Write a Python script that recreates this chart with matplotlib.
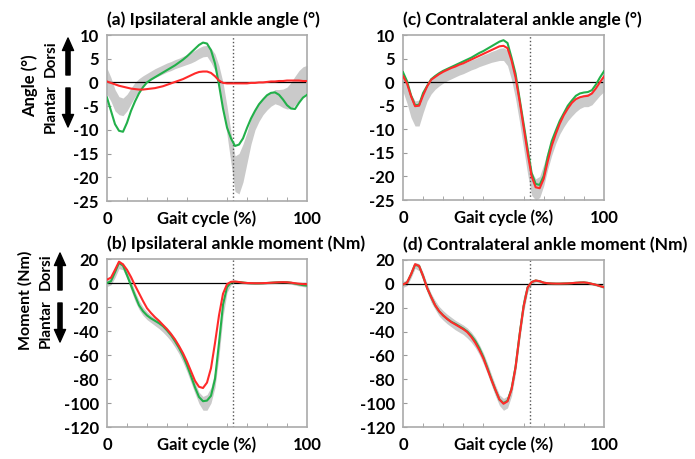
import numpy as np
import matplotlib
matplotlib.use("Agg")
import matplotlib.pyplot as plt

plt.rcParams['font.family'] = ['Lato', 'DejaVu Sans']
plt.rcParams['font.weight'] = 'bold'

# gait cycle samples (%)
gait = np.arange(0, 101, 2)

# ---------------------------------------------------------------------------
# (a) ipsilateral ankle angle (deg)
# ---------------------------------------------------------------------------
ang_ipsi_green = [-3.2, -6.0, -8.8, -10.2, -10.4, -8.5, -6.0, -4.0, -2.3, -1.0,
                  0.0, 0.6, 1.1, 1.6, 2.1, 2.6, 3.1, 3.6, 4.2, 4.8,
                  5.5, 6.3, 7.1, 7.9, 8.4, 8.2, 6.8, 4.0, -0.5, -5.5,
                  -9.5, -11.8, -13.4, -13.1, -11.8, -9.6, -7.6, -6.0, -4.6, -3.6,
                  -2.7, -2.2, -2.1, -2.6, -3.6, -4.8, -5.5, -5.6, -4.3, -3.2,
                  -2.6]
ang_ipsi_red = [0.2, -0.1, -0.4, -0.7, -0.9, -1.1, -1.3, -1.4, -1.5, -1.5,
                -1.4, -1.3, -1.2, -1.0, -0.8, -0.5, -0.2, 0.1, 0.4, 0.7,
                1.1, 1.5, 1.9, 2.2, 2.3, 2.3, 2.0, 1.3, 0.4, -0.1,
                -0.2, -0.2, -0.2, -0.2, -0.2, -0.2, -0.1, -0.1, 0.0, 0.0,
                0.1, 0.2, 0.2, 0.3, 0.3, 0.4, 0.4, 0.4, 0.4, 0.3,
                0.3]
ang_ipsi_hi = [3.0, 1.0, -1.5, -3.0, -3.3, -2.5, -1.2, 0.0, 0.8, 1.4,
               1.9, 2.4, 2.9, 3.3, 3.7, 4.1, 4.4, 4.8, 5.1, 5.5,
               5.9, 6.3, 6.8, 7.3, 7.7, 7.8, 7.2, 6.0, 3.5, 0.0,
               -5.0, -10.5, -15.5, -15.0, -13.0, -10.5, -7.5, -5.5, -4.2, -3.2,
               -2.5, -2.1, -1.5, -1.5, -1.4, -1.0, 0.0, 1.3, 2.5, 3.3,
               3.6]
ang_ipsi_lo = [-2.5, -4.0, -6.0, -6.8, -7.0, -6.0, -4.5, -3.0, -1.8, -0.8,
               0.0, 0.5, 1.0, 1.4, 1.8, 2.2, 2.5, 2.9, 3.2, 3.5,
               3.8, 4.1, 4.5, 5.0, 5.4, 5.5, 4.2, 2.5, -1.0, -5.5,
               -11.0, -17.0, -23.0, -23.5, -21.0, -17.0, -13.0, -10.0, -8.2, -6.8,
               -5.8, -5.0, -4.5, -4.8, -5.3, -5.6, -5.5, -4.8, -3.8, -2.8,
               -2.0]

# ---------------------------------------------------------------------------
# (c) contralateral ankle angle (deg)
# ---------------------------------------------------------------------------
ang_contra_green = [2.1, 0.2, -2.8, -4.9, -4.8, -2.3, -0.8, 0.6, 1.3, 1.9,
                    2.4, 2.8, 3.2, 3.6, 4.0, 4.4, 4.8, 5.2, 5.7, 6.2,
                    6.6, 7.1, 7.6, 8.1, 8.6, 8.9, 8.3, 5.2, 1.8, -3.5,
                    -8.8, -14.1, -19.3, -21.6, -21.8, -19.9, -15.8, -12.5, -10.3, -8.2,
                    -6.6, -5.0, -3.9, -2.9, -2.4, -2.2, -2.1, -1.7, -0.5, 1.0,
                    2.3]
ang_contra_red = [1.3, -0.3, -3.0, -5.1, -5.0, -2.8, -0.9, 0.5, 1.1, 1.7,
                  2.2, 2.6, 3.0, 3.3, 3.7, 4.0, 4.4, 4.8, 5.2, 5.6,
                  6.0, 6.4, 6.8, 7.2, 7.6, 7.7, 7.2, 4.6, 1.0, -4.0,
                  -9.5, -15.0, -20.0, -22.3, -22.5, -20.5, -16.8, -13.5, -11.0, -8.8,
                  -7.0, -5.6, -4.4, -3.6, -3.2, -3.0, -2.9, -2.4, -1.3, 0.0,
                  1.2]
ang_contra_hi = [1.5, -0.5, -2.5, -4.0, -3.8, -2.0, -0.5, 0.5, 1.2, 1.8,
                 2.3, 2.7, 3.0, 3.4, 3.7, 4.0, 4.3, 4.7, 5.0, 5.4,
                 5.8, 6.1, 6.5, 6.8, 7.2, 7.3, 6.8, 4.5, 1.0, -3.5,
                 -9.0, -14.5, -19.0, -20.5, -20.0, -17.5, -14.5, -12.0, -10.0, -8.2,
                 -6.8, -5.5, -4.4, -3.6, -3.0, -2.6, -2.4, -2.0, -1.0, 0.2,
                 1.0]
ang_contra_lo = [-2.0, -4.5, -7.5, -9.3, -9.3, -6.5, -4.0, -2.5, -1.5, -0.8,
                 -0.2, 0.3, 0.7, 1.1, 1.5, 1.8, 2.2, 2.6, 2.9, 3.3,
                 3.6, 3.9, 4.2, 4.4, 4.6, 4.6, 3.5, 0.5, -3.5, -8.5,
                 -14.0, -19.5, -24.0, -25.0, -24.5, -22.0, -18.5, -15.5, -13.0, -11.0,
                 -9.5, -8.2, -7.2, -6.3, -5.6, -5.2, -5.2, -4.8, -3.8, -2.8,
                 -2.0]

# ---------------------------------------------------------------------------
# (b) ipsilateral ankle moment (Nm)
# ---------------------------------------------------------------------------
mom_ipsi_green = [0.0, 1.5, 9.0, 16.8, 14.5, 6.5, -2.0, -10.5, -18.5, -23.5,
                  -27.0, -29.5, -31.5, -33.5, -36.0, -39.5, -43.5, -48.5, -54.0, -60.5,
                  -68.5, -77.5, -87.0, -95.0, -98.5, -98.0, -94.0, -80.0, -50.0, -18.0,
                  -3.5, 0.5, 1.0, 0.8, 0.4, 0.0, -0.2, -0.3, -0.3, -0.2,
                  0.0, 0.2, 0.4, 0.6, 0.7, 0.6, 0.2, -0.5, -1.2, -1.8,
                  -2.2]
mom_ipsi_red = [2.8, 4.5, 11.0, 17.8, 15.5, 11.0, 5.0, -2.0, -8.5, -15.0,
                -21.0, -25.0, -28.5, -31.5, -35.0, -38.5, -42.5, -47.0, -52.5, -58.5,
                -65.5, -73.5, -81.5, -86.5, -87.5, -83.0, -71.0, -50.0, -27.0, -9.0,
                -1.0, 1.0, 1.2, 0.8, 0.3, 0.0, -0.1, -0.2, -0.2, -0.1,
                0.0, 0.2, 0.4, 0.6, 0.7, 0.6, 0.3, -0.2, -0.6, -0.9,
                -1.0]
mom_ipsi_hi = [2.5, 4.0, 11.0, 17.5, 17.0, 11.0, 2.0, -7.0, -14.5, -20.0,
               -24.0, -27.0, -29.5, -31.5, -34.0, -37.0, -41.0, -46.0, -51.5, -58.0,
               -65.5, -74.0, -83.0, -91.0, -94.5, -93.0, -87.0, -73.0, -45.0, -15.0,
               -1.0, 1.5, 2.0, 1.8, 1.3, 1.0, 0.8, 0.8, 0.9, 1.0,
               1.2, 1.4, 1.6, 1.7, 1.8, 1.6, 1.0, 0.3, -0.3, -0.7,
               -1.0]
mom_ipsi_lo = [-3.0, -1.5, 4.5, 12.0, 11.0, 3.5, -6.0, -15.0, -22.0, -27.0,
               -30.5, -33.0, -35.5, -38.0, -41.0, -44.5, -48.5, -53.5, -59.0, -66.0,
               -74.0, -83.0, -92.0, -100.5, -106.0, -106.0, -100.0, -87.0, -61.0, -28.0,
               -8.0, -1.5, 0.0, -0.2, -0.6, -1.0, -1.2, -1.2, -1.1, -1.0,
               -0.8, -0.6, -0.4, -0.3, -0.2, -0.4, -1.0, -1.8, -2.5, -3.0,
               -3.5]

# ---------------------------------------------------------------------------
# (d) contralateral ankle moment (Nm)
# ---------------------------------------------------------------------------
mom_contra_green = [-0.5, 1.0, 8.0, 16.0, 15.0, 6.5, -3.5, -11.0, -18.0, -23.0,
                    -26.5, -29.3, -31.8, -33.5, -35.5, -37.5, -40.0, -43.5, -48.0, -54.0,
                    -61.5, -70.5, -80.0, -89.0, -97.0, -100.0, -98.0, -88.0, -69.5, -42.5,
                    -18.5, -3.0, 1.5, 2.8, 2.2, 1.0, 0.5, 0.3, 0.2, 0.2,
                    0.3, 0.4, 0.6, 0.9, 1.1, 1.2, 0.8, 0.0, -0.8, -1.8,
                    -2.8]
mom_contra_red = [-0.5, 1.0, 8.0, 16.5, 15.0, 6.5, -3.5, -11.0, -18.0, -23.0,
                  -26.5, -29.5, -32.0, -34.0, -36.0, -38.0, -40.5, -44.5, -49.5, -55.5,
                  -62.5, -71.5, -80.5, -89.0, -97.0, -100.5, -98.5, -88.5, -70.0, -43.0,
                  -19.0, -3.0, 1.5, 2.8, 2.2, 1.0, 0.5, 0.3, 0.2, 0.2,
                  0.3, 0.4, 0.6, 0.9, 1.1, 1.2, 0.8, 0.0, -0.8, -1.8,
                  -2.8]
mom_contra_hi = [2.0, 3.5, 10.5, 18.0, 17.0, 9.5, 0.0, -8.0, -14.0, -19.0,
                 -22.5, -25.5, -28.0, -30.5, -32.5, -34.5, -37.0, -40.5, -45.0, -51.0,
                 -58.0, -66.5, -76.0, -85.0, -93.0, -96.0, -94.0, -83.0, -62.0, -34.0,
                 -10.0, 0.0, 3.0, 3.8, 3.2, 2.0, 1.5, 1.3, 1.2, 1.2,
                 1.3, 1.4, 1.6, 1.9, 2.1, 2.2, 1.8, 1.0, 0.2, -0.7,
                 -1.5]
mom_contra_lo = [-3.0, -1.5, 5.0, 13.0, 11.0, 2.5, -7.0, -15.5, -21.5, -27.0,
                 -30.5, -33.5, -36.0, -38.5, -40.5, -42.5, -45.5, -49.0, -53.5, -59.5,
                 -67.0, -75.5, -85.0, -94.0, -102.0, -106.0, -104.0, -94.0, -75.0, -48.0,
                 -24.0, -7.0, -0.5, 1.5, 1.0, 0.0, -0.5, -0.7, -0.8, -0.8,
                 -0.7, -0.6, -0.4, -0.1, 0.1, 0.2, -0.2, -1.0, -1.8, -2.8,
                 -4.0]

toe_off = 63  # vertical marker (% gait)

panels = [
    # (title, fig-pixel box [left, top, right, bottom], green, red, hi, lo, ylim, yticks)
    ("(a) Ipsilateral ankle angle (\u00b0)", (107, 35, 307, 201),
     ang_ipsi_green, ang_ipsi_red, ang_ipsi_hi, ang_ipsi_lo, (-25, 10), np.arange(-25, 11, 5)),
    ("(c) Contralateral ankle angle (\u00b0)", (403, 35, 604, 200),
     ang_contra_green, ang_contra_red, ang_contra_hi, ang_contra_lo, (-25, 10), np.arange(-25, 11, 5)),
    ("(b) Ipsilateral ankle moment (Nm)", (107, 259, 307, 427),
     mom_ipsi_green, mom_ipsi_red, mom_ipsi_hi, mom_ipsi_lo, (-120, 20), np.arange(-120, 21, 20)),
    ("(d) Contralateral ankle moment (Nm)", (403, 260, 604, 427),
     mom_contra_green, mom_contra_red, mom_contra_hi, mom_contra_lo, (-120, 20), np.arange(-120, 21, 20)),
]

W, H = 695, 459
fig = plt.figure(figsize=(W / 100, H / 100), dpi=100)

for title, (l, t, r, b), g, rd, hi, lo, ylim, yticks in panels:
    ax = fig.add_axes([l / W, 1 - b / H, (r - l) / W, (b - t) / H])
    ax.fill_between(gait, lo, hi, color='#cacaca', lw=0, zorder=1)
    ax.axhline(0, color='black', lw=0.9, zorder=2)
    ax.axvline(toe_off, color='#555555', lw=1.0, ls=':', zorder=2)
    ax.plot(gait, g, color='#22b04a', lw=1.5, zorder=3)
    ax.plot(gait, rd, color='#ff2a2a', lw=1.5, zorder=4)
    ax.set_xlim(0, 100)
    ax.set_ylim(*ylim)
    ax.set_yticks(yticks)
    ax.set_yticklabels([str(v) for v in yticks])
    ax.set_xticks([0, 50, 100])
    ax.set_xticklabels(['0', 'Gait cycle (%)', '100'])
    ax.set_xticks(np.arange(10, 100, 10), minor=True)
    ax.tick_params(axis='x', which='major', length=0, pad=7, labelsize=12)
    ax.tick_params(axis='x', which='minor', direction='in', length=3, color='#999999')
    ax.tick_params(axis='y', direction='in', length=3, color='#999999', pad=6, labelsize=12)
    for s in ax.spines.values():
        s.set_color('#aaaaaa')
        s.set_linewidth(1.2)
    fig.text(l / W, 1 - (t - 15) / H, title, ha='left', va='center',
             fontsize=12.6, fontweight='bold')

# y-axis captions with direction arrows
def side_label(name, name_size, name_y, x_name, x_dir, dorsi_y, plantar_y, x_arrow, up, down):
    fig.text(x_name / W, 1 - name_y / H, name, rotation=90, ha='center', va='center',
             fontsize=name_size, fontweight='bold')
    fig.text(x_dir / W, 1 - dorsi_y / H, 'Dorsi', rotation=90, ha='center', va='center',
             fontsize=11, fontweight='bold')
    fig.text(x_dir / W, 1 - plantar_y / H, 'Plantar', rotation=90, ha='center', va='center',
             fontsize=11, fontweight='bold')
    props = dict(width=3.0, headwidth=8, headlength=9, color='black')
    plt.annotate('', xy=(x_arrow, H - up[1]), xytext=(x_arrow, H - up[0]),
                 xycoords='figure pixels', textcoords='figure pixels', arrowprops=props)
    plt.annotate('', xy=(x_arrow, H - down[1]), xytext=(x_arrow, H - down[0]),
                 xycoords='figure pixels', textcoords='figure pixels', arrowprops=props)

side_label('Angle (\u00b0)', 12, 86, 30, 51, 59, 109, 68, (75, 38), (88, 127))
side_label('Moment (Nm)', 11.5, 300, 25, 46, 272, 324, 60, (290, 253), (303, 342))

fig.savefig('out.png', dpi=100)
